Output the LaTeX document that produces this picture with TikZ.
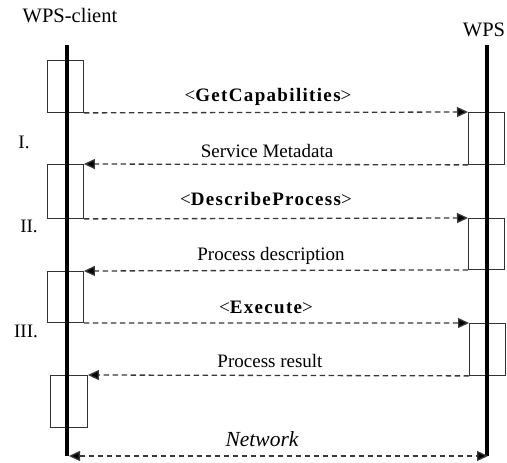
\documentclass[tikz,border=0pt]{standalone}
\usepackage{fontspec}
\setmainfont{Liberation Serif}
\newfontfamily\trackedbold[LetterSpace=7]{Liberation Serif}
\usetikzlibrary{arrows.meta}

\begin{document}
\begin{tikzpicture}[x=1pt,y=-1pt,
  actbox/.style={draw=black!80, line width=0.9pt, minimum width=36pt,
    inner sep=0pt, anchor=north west},
  lifeline/.style={line width=4pt},
  tipshape/.style={},
  msg/.style={draw=black!78, line width=1.3pt, dash pattern=on 5.5pt off 3.5pt,
    -{Triangle[length=11pt,width=10pt,fill=black]}},
  netmsg/.style={msg, {Triangle[length=11pt,width=10pt,fill=black]}-{Triangle[length=11pt,width=10pt,fill=black]}},
  lbl/.style={font=\fontsize{19}{22}\selectfont, anchor=base, inner sep=0pt},
  head/.style={font=\fontsize{20.5}{24}\selectfont, anchor=base, inner sep=0pt},
  op/.style={lbl},
]
\useasboundingbox (0,0) rectangle (507,463);

% participants
\node[head] (client) at (70,22) {WPS-client};
\node[head] (server) at (484,37) {WPS};

% activation boxes, client side
\node[actbox, minimum height=52pt] (c1) at (47,60) {};
\node[actbox, minimum height=54pt] (c2) at (47,164) {};
\node[actbox, minimum height=51pt] (c3) at (47,271) {};
\node[actbox, minimum height=52pt, minimum width=37pt] (c4) at (50,375) {};

% activation boxes, service side
\node[actbox, minimum height=52pt] (s1) at (468,112) {};
\node[actbox, minimum height=51pt] (s2) at (468,218) {};
\node[actbox, minimum height=52pt] (s3) at (469,323) {};

% lifelines
\coordinate (ctop) at (67,45);
\coordinate (cbot) at (67,456);
\coordinate (stop) at (487,45);
\coordinate (sbot) at (487,456);
\draw[lifeline] (ctop) -- (cbot);
\draw[lifeline] (stop) -- (sbot);

% messages
\draw[msg] (c1.south east) -- (s1.north west);
\draw[msg] (s1.south west) -- (c2.north east);
\draw[msg] (c2.south east) -- (s2.north west);
\draw[msg] (s2.south west) -- (c3.north east);
\draw[msg] (c3.south east) -- (s3.north west);
\draw[msg] (s3.south west) -- (c4.north east);
\draw[netmsg] ([xshift=2pt]cbot) -- ([xshift=1pt]sbot);

% message labels
\node[op] (m1) at (268,101) {<{\trackedbold\bfseries GetCapabilities}>};
\node[lbl] (m2) at (267,157) {Service Metadata};
\node[op] (m3) at (266,205) {<{\trackedbold\bfseries DescribeProcess}>};
\node[lbl] (m4) at (271,260) {Process description};
\node[op] (m5) at (266,313) {<{\trackedbold\bfseries Execute}>};
\node[lbl] (m6) at (270,367) {Process result};
\node[lbl, font=\fontsize{21.5}{24}\selectfont\itshape] (net) at (262,446) {Network};

% phase numbers
\node[lbl] (p1) at (24,148) {I.};
\node[lbl] (p2) at (29,232) {II.};
\node[lbl] (p3) at (26,337) {III.};
\end{tikzpicture}
\end{document}
